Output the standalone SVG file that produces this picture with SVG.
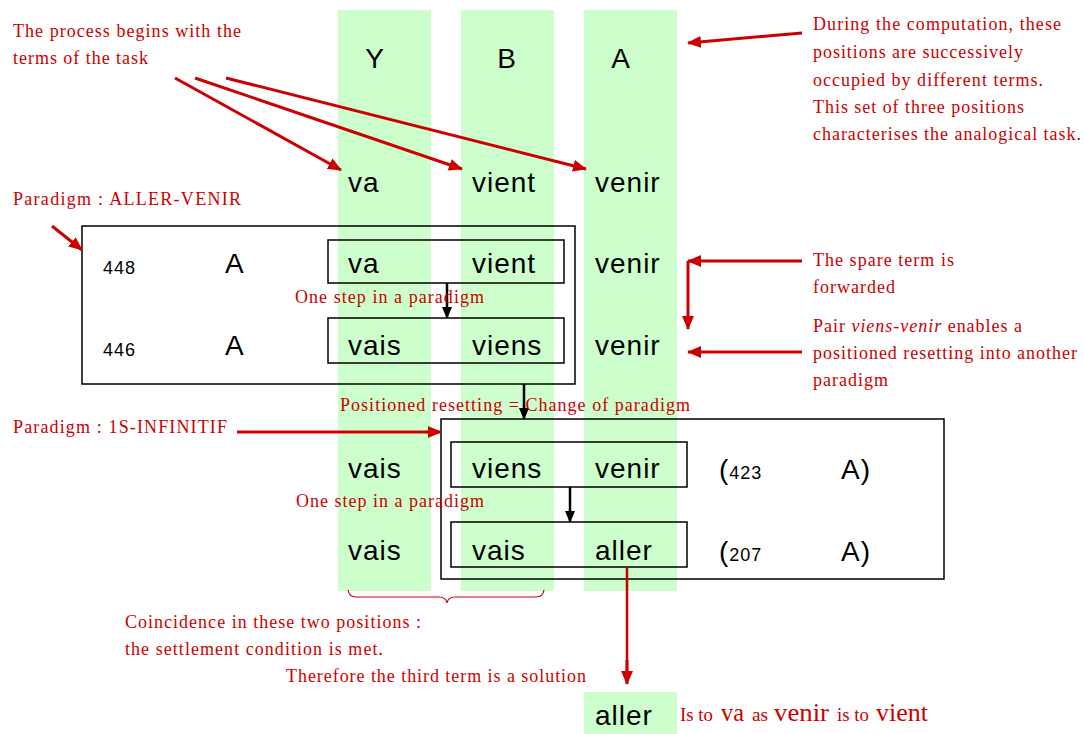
<svg xmlns="http://www.w3.org/2000/svg" width="1084" height="734" viewBox="0 0 1084 734">
<style>
.col{fill:#CCFFCC}
.t{font-family:"Liberation Sans",Arial,sans-serif;font-size:28px;fill:#000;letter-spacing:1px}
.n{font-family:"Liberation Sans",Arial,sans-serif;font-size:18px;fill:#000;letter-spacing:1px}
.r{font-family:"Liberation Serif","Times New Roman",serif;font-size:18px;fill:#CC0000}
.rs{font-family:"Liberation Serif","Times New Roman",serif;font-size:18px;fill:#CC0000}
.rb{font-family:"Liberation Serif","Times New Roman",serif;font-size:25px;fill:#CC0000}
.box{fill:none;stroke:#000;stroke-width:1.5}
.ra{fill:none;stroke:#CC0000;stroke-width:3;marker-end:url(#rh)}
.ba{fill:none;stroke:#000;stroke-width:2.5;marker-end:url(#bh)}
</style>
<defs>
<marker id="rh" markerUnits="userSpaceOnUse" markerWidth="14" markerHeight="12" refX="13" refY="6" orient="auto">
<path d="M0,0 L14,6 L0,12 z" fill="#CC0000"/>
</marker>
<marker id="bh" markerUnits="userSpaceOnUse" markerWidth="12" markerHeight="12" refX="11" refY="5" orient="auto">
<path d="M0,0 L12,5 L0,10 z" fill="#000"/>
</marker>
</defs>
<rect width="1084" height="734" fill="#fff"/>

<g id="columns">
<rect class="col" x="338" y="10" width="93" height="581"/>
<rect class="col" x="461" y="10" width="93" height="581"/>
<rect class="col" x="584" y="10" width="93" height="581"/>
<rect class="col" x="584" y="692" width="93" height="42"/>
</g>

<g id="headers">
<text class="t" x="375" y="68" text-anchor="middle">Y</text>
<text class="t" x="507" y="68" text-anchor="middle">B</text>
<text class="t" x="621" y="68" text-anchor="middle">A</text>
</g>

<g id="task">
<text class="t" x="348" y="192">va</text>
<text class="t" x="472" y="192">vient</text>
<text class="t" x="595" y="192">venir</text>
</g>

<g id="paradigm1">
<rect class="box" x="82" y="226" width="493" height="158"/>
<rect class="box" x="328" y="240" width="236" height="43"/>
<rect class="box" x="328" y="318" width="236" height="45"/>
<text class="n" x="103" y="274">448</text>
<text class="t" x="225" y="273">A</text>
<text class="t" x="348" y="273">va</text>
<text class="t" x="472" y="273">vient</text>
<text class="t" x="595" y="273">venir</text>
<text class="n" x="103" y="356">446</text>
<text class="t" x="225" y="355">A</text>
<text class="t" x="348" y="355">vais</text>
<text class="t" x="472" y="355">viens</text>
<text class="t" x="595" y="355">venir</text>
</g>

<g id="paradigm2">
<rect class="box" x="441" y="419" width="503" height="160"/>
<rect class="box" x="451" y="442" width="236" height="45"/>
<rect class="box" x="451" y="522" width="236" height="45"/>
<text class="t" x="348" y="478">vais</text>
<text class="t" x="472" y="478">viens</text>
<text class="t" x="595" y="478">venir</text>
<text class="t" x="719" y="479">(<tspan style="font-size:18px">423</tspan></text>
<text class="t" x="841" y="479">A)</text>
<text class="t" x="348" y="560">vais</text>
<text class="t" x="472" y="560">vais</text>
<text class="t" x="595" y="560">aller</text>
<text class="t" x="719" y="561">(<tspan style="font-size:18px">207</tspan></text>
<text class="t" x="841" y="561">A)</text>
</g>

<g id="solution">
<text class="t" x="595" y="725">aller</text>
<text class="rs" x="680" y="721" textLength="33" lengthAdjust="spacingAndGlyphs">Is to</text>
<text class="rb" x="721" y="721" textLength="23" lengthAdjust="spacingAndGlyphs">va</text>
<text class="rs" x="752" y="721" textLength="16" lengthAdjust="spacingAndGlyphs">as</text>
<text class="rb" x="774" y="721" textLength="55" lengthAdjust="spacingAndGlyphs">venir</text>
<text class="rs" x="837" y="721" textLength="32" lengthAdjust="spacingAndGlyphs">is to</text>
<text class="rb" x="876" y="721" textLength="52" lengthAdjust="spacingAndGlyphs">vient</text>
</g>

<g id="connectors">
<path class="ra" d="M175,78 L341,170"/>
<path class="ra" d="M195,78 L462,169"/>
<path class="ra" d="M226,78 L586,169"/>
<path class="ra" d="M802,33 L688,43"/>
<path class="ra" d="M52,226 L82,250"/>
<path class="ra" d="M802,261 L688,261"/>
<path class="ra" d="M688,261 L688,329"/>
<path class="ra" d="M802,352 L688,352"/>
<path class="ra" d="M237,432 L441,432"/>
<path fill="none" stroke="#CC0000" stroke-width="2.5" d="M627,567 L627,672"/>
<path class="ra" d="M627,660 L627,684"/>
<path class="ba" d="M447,283 L447,318"/>
<path class="ba" d="M524,384 L524,419"/>
<path class="ba" d="M570,487 L570,522"/>
<path fill="none" stroke="#CC0000" stroke-width="1.2" d="M348,590 Q349,597 356,597 L439,597 Q446,597 447,603 Q448,597 455,597 L536,597 Q543,597 544,590"/>
</g>

<g id="annotations">
<text class="r" x="13" y="37" textLength="228" lengthAdjust="spacing">The process begins with the</text>
<text class="r" x="13" y="64" textLength="135" lengthAdjust="spacing">terms of the task</text>
<text class="r" x="813" y="30" textLength="248" lengthAdjust="spacing">During the computation, these</text>
<text class="r" x="813" y="58" textLength="210" lengthAdjust="spacing">positions are successively</text>
<text class="r" x="813" y="86" textLength="230" lengthAdjust="spacing">occupied by different terms.</text>
<text class="r" x="813" y="113" textLength="211" lengthAdjust="spacing">This set of three positions</text>
<text class="r" x="813" y="140" textLength="268" lengthAdjust="spacing">characterises the analogical task.</text>
<text class="r" x="13" y="205" textLength="228" lengthAdjust="spacing">Paradigm : ALLER-VENIR</text>
<text class="r" x="295" y="303" textLength="189" lengthAdjust="spacing">One step in a paradigm</text>
<text class="r" x="813" y="266" textLength="141" lengthAdjust="spacing">The spare term is</text>
<text class="r" x="813" y="293" textLength="82" lengthAdjust="spacing">forwarded</text>
<text class="r" x="813" y="332" textLength="209" lengthAdjust="spacing">Pair <tspan font-style="italic">viens-venir</tspan> enables a</text>
<text class="r" x="813" y="359" textLength="264" lengthAdjust="spacing">positioned resetting into another</text>
<text class="r" x="813" y="386" textLength="75" lengthAdjust="spacing">paradigm</text>
<text class="r" x="340" y="411" textLength="350" lengthAdjust="spacing">Positioned resetting = Change of paradigm</text>
<text class="r" x="13" y="433" textLength="214" lengthAdjust="spacing">Paradigm : 1S-INFINITIF</text>
<text class="r" x="296" y="507" textLength="188" lengthAdjust="spacing">One step in a paradigm</text>
<text class="r" x="125" y="628" textLength="296" lengthAdjust="spacing">Coincidence in these two positions :</text>
<text class="r" x="125" y="655" textLength="258" lengthAdjust="spacing">the settlement condition is met.</text>
<text class="r" x="286" y="682" textLength="300" lengthAdjust="spacing">Therefore the third term is a solution</text>
</g>
</svg>
